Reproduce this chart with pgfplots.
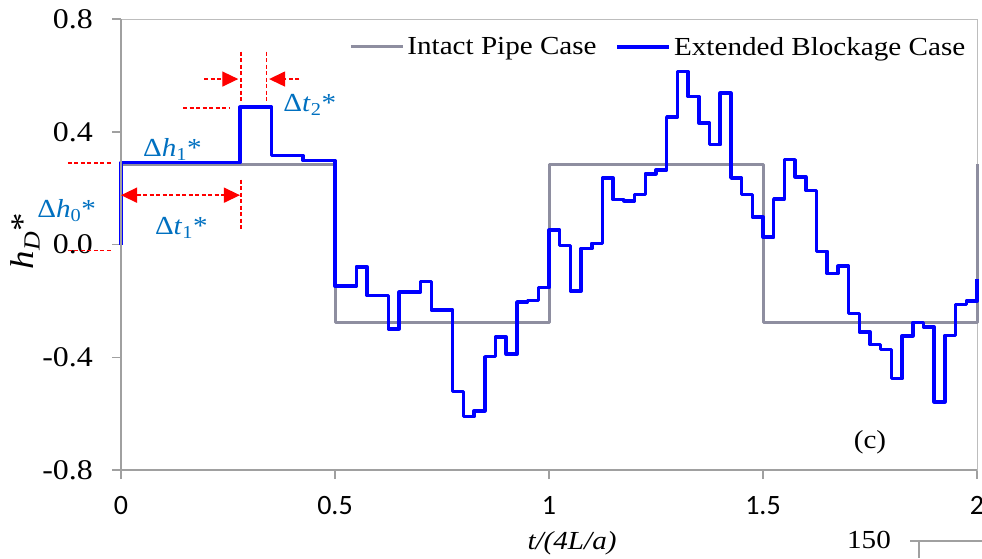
\documentclass[border=0pt]{standalone}
\usepackage{fontspec}
\setmainfont{Liberation Serif}[FakeStretch=1.12]
\newfontfamily\calibrifont{Carlito}
\usepackage{pgfplots}
\pgfplotsset{compat=1.18}
\usetikzlibrary{arrows.meta}
\definecolor{intact}{RGB}{142,142,160}
\definecolor{axisgray}{RGB}{160,160,160}
\definecolor{lblblue}{RGB}{0,112,192}
\begin{document}
\begin{tikzpicture}[font=\fontsize{26}{30}\selectfont]
\path[use as bounding box] (0pt,0pt) rectangle (982pt,-558pt);
\begin{axis}[
  at={(121pt,-470pt)}, anchor=south west,
  width=856pt, height=451pt, scale only axis,
  xmin=0, xmax=2, ymin=-0.8, ymax=0.8,
  clip=false,
  axis line style={draw=axisgray!70, line width=0.8pt},
  xtick={0,0.5,1,1.5,2}, xticklabels={0,0.5,1,1.5,2},
  ytick={-0.8,-0.4,0,0.4,0.8}, yticklabels={-0.8,-0.4,0.0,0.4,0.8},
  xtick pos=left, ytick pos=left,
  tick align=outside,
  major tick length=9pt,
  tick style={axisgray, line width=1.5pt},
  /pgf/number format/assume math mode=true,
  xticklabel style={font=\calibrifont\fontsize{28}{30}\selectfont, anchor=north, inner sep=0pt, yshift=-17pt},
  yticklabel style={font=\fontsize{28.5}{30}\selectfont, anchor=east, inner sep=0pt, xshift=-19pt},
  legend columns=2,
  legend style={draw=none, fill=none, at={(axis description cs:0.99,0.938)}, anchor=east,
    font=\fontsize{26}{30}\selectfont, inner sep=0pt,
    nodes={inner sep=3pt},
    /tikz/every even column/.append style={column sep=16pt}},
  legend image code/.code={\draw[#1] (0pt,0pt) -- (52pt,0pt);},
  legend cell align=left,
]
\addplot[intact, line width=3pt, const plot, line join=round] coordinates {
(0,0) (0,0.284) (0.5,-0.275) (1.0,0.284) (1.5,-0.275) (2.0,0.284)
};
\addlegendentry{Intact Pipe Case}
\addplot[blue, line width=3.5pt, const plot, line join=round] coordinates {
(0,0) (0,0.291) (0.278,0.487) (0.352,0.316) (0.425,0.298)
(0.5,-0.147) (0.55,-0.079) (0.575,-0.181) (0.625,-0.299) (0.65,-0.169)
(0.7,-0.131) (0.725,-0.232) (0.775,-0.521) (0.8,-0.611) (0.825,-0.590)
(0.85,-0.398) (0.875,-0.328) (0.9,-0.389) (0.925,-0.204) (0.95,-0.198)
(0.975,-0.153) (1.0,0.051) (1.025,-0.004) (1.05,-0.165) (1.075,-0.014)
(1.1,0.004) (1.125,0.236) (1.15,0.159) (1.175,0.155) (1.2,0.177)
(1.225,0.251) (1.25,0.265) (1.275,0.452) (1.3,0.614) (1.325,0.525)
(1.35,0.431) (1.375,0.354) (1.4,0.537) (1.425,0.236) (1.45,0.177)
(1.475,0.098) (1.5,0.026) (1.525,0.162) (1.55,0.301) (1.575,0.240)
(1.6,0.192) (1.625,-0.024) (1.65,-0.103) (1.675,-0.077) (1.7,-0.244)
(1.725,-0.310) (1.75,-0.355) (1.775,-0.372) (1.8,-0.476) (1.825,-0.324)
(1.85,-0.277) (1.875,-0.293) (1.9,-0.558) (1.925,-0.322) (1.95,-0.212)
(1.975,-0.201) (2.0,-0.124)
};
\addlegendentry{Extended Blockage Case}
% left and bottom axis lines
\draw[axisgray, line width=1.6pt] (rel axis cs:0,1) -- (rel axis cs:0,0) -- (rel axis cs:1,0);
% annotations
\begin{scope}[red, line width=1.4pt, dash pattern=on 4pt off 2.5pt]
\draw (axis cs:-0.124,0.289) -- (axis cs:-0.019,0.289);
\draw (axis cs:-0.124,-0.021) -- (axis cs:-0.019,-0.021);
\draw (axis cs:0.145,0.484) -- (axis cs:0.255,0.484);
\draw (axis cs:0.280,0.684) -- (axis cs:0.280,0.507);
\draw (axis cs:0.280,0.230) -- (axis cs:0.280,0.056);
\draw (axis cs:0.340,0.684) -- (axis cs:0.340,0.507);
\draw[{Triangle[length=16pt,width=15pt]}-{Triangle[length=16pt,width=15pt]}] (axis cs:0,0.175) -- (axis cs:0.278,0.175);
\draw[-{Triangle[length=16pt,width=15pt]}] (axis cs:0.194,0.587) -- (axis cs:0.274,0.587);
\draw[-{Triangle[length=16pt,width=15pt]}] (axis cs:0.417,0.587) -- (axis cs:0.346,0.587);
\end{scope}
\node[lblblue, anchor=base west, inner sep=0pt] at (axis cs:0.051,0.313) {Δ\textit{h}\textsubscript{1}*};
\node[lblblue, anchor=base west, inner sep=0pt] at (axis cs:-0.196,0.096) {Δ\textit{h}\textsubscript{0}*};
\node[lblblue, anchor=base west, inner sep=0pt] at (axis cs:0.079,0.035) {Δ\textit{t}\textsubscript{1}*};
\node[lblblue, anchor=base west, inner sep=0pt] at (axis cs:0.379,0.472) {Δ\textit{t}\textsubscript{2}*};
\node[anchor=center] at (axis cs:1.750,-0.701) {(c)};
\end{axis}
\node[rotate=90, anchor=center, font=\fontsize{33}{36}\selectfont] at (25pt,-241pt) {\textit{h}\textsubscript{\textit{D}}*};
\node[anchor=center] at (572pt,-543pt) {\textit{t/(4L/a)}};
\node[anchor=center] at (869pt,-540pt) {150};
\draw[axisgray, line width=1.2pt] (910pt,-541pt) -- (982pt,-541pt);
\draw[axisgray, line width=1.2pt] (919pt,-541pt) -- (919pt,-558pt);
\end{tikzpicture}
\end{document}
